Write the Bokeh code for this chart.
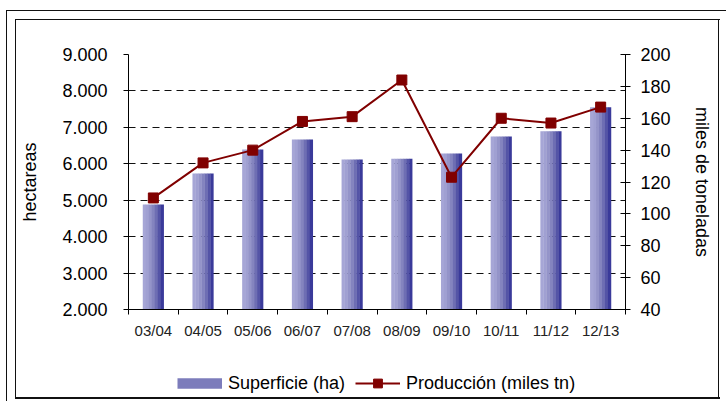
from bokeh.plotting import figure
from bokeh.layouts import column
from bokeh.models import (ColumnDataSource, Range1d, LinearAxis, FixedTicker,
                          Legend, LegendItem)
from bokeh.transform import dodge
from bokeh.embed import file_html
from bokeh.resources import INLINE

categories = ["03/04", "04/05", "05/06", "06/07", "07/08",
              "08/09", "09/10", "10/11", "11/12", "12/13"]
superficie = [4880, 5730, 6390, 6670, 6120, 6140, 6280, 6750, 6890, 7550]
produccion = [110, 132, 140, 158, 161, 184, 123, 160, 157, 167]

left_ticks = [2000, 3000, 4000, 5000, 6000, 7000, 8000, 9000]
left_tick_labels = ["2.000", "3.000", "4.000", "5.000", "6.000", "7.000", "8.000", "9.000"]
right_ticks = [40, 60, 80, 100, 120, 140, 160, 180, 200]

FONT = "Liberation Sans"
x_pos = list(range(len(categories)))
src = ColumnDataSource(dict(x=x_pos, cat=categories, sup=superficie, prod=produccion))

p = figure(width=726, height=360, output_backend="svg", toolbar_location=None,
           x_range=Range1d(-0.5, len(categories) - 0.5),
           y_range=Range1d(left_ticks[0], left_ticks[-1]),
           min_border_left=128, min_border_right=101, min_border_top=54, min_border_bottom=51)
p.outline_line_color = None
p.background_fill_color = "white"
p.border_fill_color = None

# x axis
xa = p.xaxis[0]
xa.ticker = FixedTicker(ticks=x_pos, minor_ticks=[i - 0.5 for i in range(len(categories) + 1)])
xa.major_label_overrides = {i: c for i, c in zip(x_pos, categories)}
xa.major_tick_in = 0
xa.major_tick_out = 0
xa.minor_tick_in = 0
xa.minor_tick_out = 5
xa.minor_tick_line_color = "black"
xa.axis_line_color = "black"
xa.major_label_text_font = FONT
xa.major_label_text_font_size = "15px"
xa.major_label_text_color = "#222222"
xa.major_label_standoff = 7

# left axis
ya = p.yaxis[0]
ya.ticker = FixedTicker(ticks=left_ticks)
ya.major_label_overrides = {t: l for t, l in zip(left_ticks, left_tick_labels)}
ya.major_tick_in = 0
ya.major_tick_out = 5
ya.major_tick_line_color = "black"
ya.axis_line_color = "black"
ya.major_label_text_font = FONT
ya.major_label_text_font_size = "18px"
ya.major_label_text_color = "black"
ya.major_label_standoff = 16
ya.axis_label = "hectareas"
ya.axis_label_text_font = FONT
ya.axis_label_text_font_size = "18px"
ya.axis_label_text_font_style = "normal"
ya.axis_label_text_color = "black"
ya.axis_label_standoff = 19

# right axis
p.extra_y_ranges = {"prod": Range1d(right_ticks[0], right_ticks[-1])}
ra = LinearAxis(y_range_name="prod", ticker=FixedTicker(ticks=right_ticks))
ra.major_tick_in = 5
ra.major_tick_out = 5
ra.major_tick_line_color = "black"
ra.minor_tick_line_color = None
ra.axis_line_color = "black"
ra.major_label_text_font = FONT
ra.major_label_text_font_size = "18px"
ra.major_label_text_color = "black"
ra.major_label_standoff = 10
ra.axis_label = "miles de toneladas"
ra.axis_label_text_font = FONT
ra.axis_label_text_font_size = "18px"
ra.axis_label_text_font_style = "normal"
ra.axis_label_text_color = "black"
ra.axis_label_standoff = 18
p.add_layout(ra, "right")

# grid
p.xgrid.visible = False
p.ygrid.ticker = FixedTicker(ticks=left_ticks)
p.ygrid.grid_line_color = "#111111"
p.ygrid.grid_line_dash = "7 5"
p.ygrid.grid_line_width = 1

# bars with horizontal shading (strips)
strip_colors = ["#a6a6d6", "#a0a0d2", "#9494c9", "#8484bf", "#6e6eb3", "#5454a6", "#3a3a9a"]
bar_w = 0.42
sw = bar_w / len(strip_colors)
for i, c in enumerate(strip_colors):
    p.vbar(x=dodge("x", -bar_w / 2 + sw * (i + 0.5), range=p.x_range), top="sup",
           bottom=left_ticks[0], width=sw * 1.1, source=src,
           fill_color=c, line_color=None)

# line
p.line("x", "prod", source=src, y_range_name="prod", line_color="#800000", line_width=2)
p.scatter("x", "prod", source=src, y_range_name="prod", marker="square", size=10,
          fill_color="#800000", line_color="#800000")

# legend strip: a second, axis-less figure holding the legend
p2 = figure(width=726, height=41, output_backend="svg", toolbar_location=None,
            x_axis_location=None, y_axis_location=None,
            min_border_left=0, min_border_right=0, min_border_top=0, min_border_bottom=0)
p2.outline_line_color = None
p2.background_fill_color = None
p2.border_fill_color = None
p2.xgrid.visible = False
p2.ygrid.visible = False
bar_proxy = p2.line("x", "sup", source=src, line_color="#7c7cbb", line_width=10.5, visible=False)
line_proxy = p2.line("x", "prod", source=src, line_color="#800000", line_width=2, visible=False)
mark_proxy = p2.scatter("x", "prod", source=src, marker="square", size=10,
                        fill_color="#800000", line_color="#800000", visible=False)

legend = Legend(items=[LegendItem(label="Superficie (ha)", renderers=[bar_proxy]),
                       LegendItem(label="Producción (miles tn)", renderers=[line_proxy, mark_proxy])],
                location=(49, 7), orientation="horizontal",
                glyph_width=45, glyph_height=22, label_standoff=6, spacing=10,
                border_line_color=None, background_fill_alpha=0, padding=0, margin=0,
                label_text_font=FONT, label_text_font_size="18px",
                label_text_color="black", label_height=22)
p2.add_layout(legend, "center")

# chart frames drawn as CSS background lines behind the transparent figures
lines = [
    "15px 19px / 705px 1px",   # inner top
    "15px 397px / 705px 2px",  # inner bottom
    "15px 19px / 1px 380px",   # inner left
    "718px 19px / 1px 380px",  # inner right
    "6px 10px / 730px 1px",    # outer top
    "6px 10px / 1px 400px",    # outer left
]
bg = ", ".join("linear-gradient(#111111, #111111) %s no-repeat" % s for s in lines)
layout = column(p, p2, spacing=0)
layout.styles = {"background": bg + ", #ffffff"}

open("out.html", "w").write(file_html(layout, INLINE))
